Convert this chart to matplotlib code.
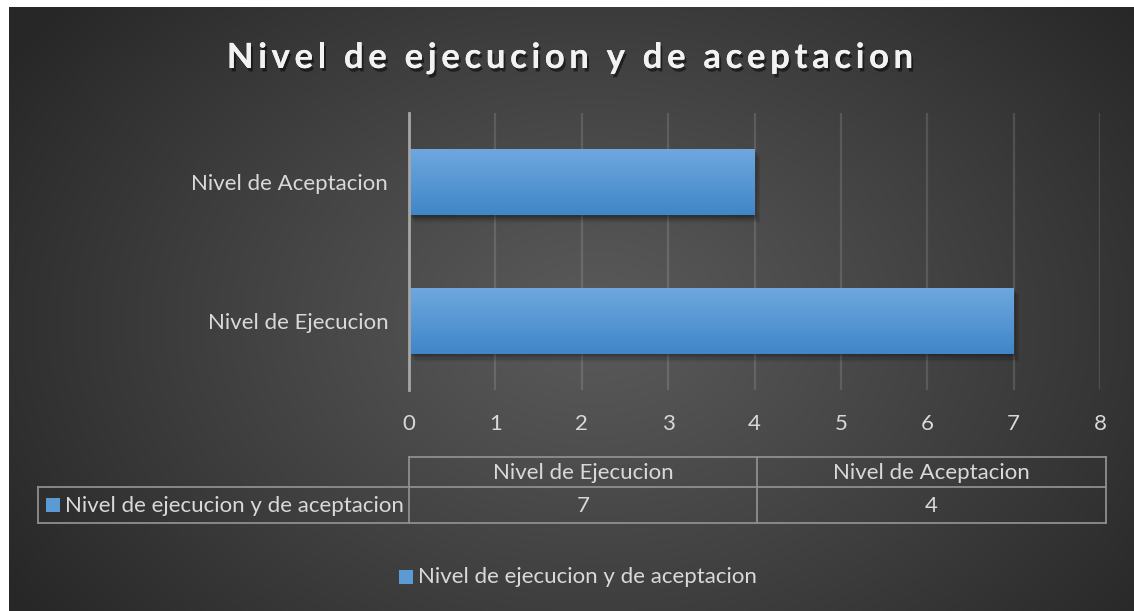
import numpy as np
import matplotlib
matplotlib.use("Agg")
import matplotlib.pyplot as plt
import matplotlib.patheffects as pe
from matplotlib.lines import Line2D
from matplotlib.patches import Rectangle
from matplotlib.font_manager import FontProperties

# Data
categories = ["Nivel de Ejecucion", "Nivel de Aceptacion"]
values = [7, 4]
series_name = "Nivel de ejecucion y de aceptacion"
title = "Nivel de ejecucion y de aceptacion"
x_ticks = [0, 1, 2, 3, 4, 5, 6, 7, 8]

W, H = 1134, 611
FONT = "Lato"
FS = 16
TXT = "#d9d9d9"
LINE = "#8f8f8f"
BLUE = "#5b9bd5"

fig = plt.figure(figsize=(W / 100, H / 100), dpi=100)
fig.patch.set_facecolor("white")
renderer = fig.canvas.get_renderer()


def fx(px):
    return px / W


def fy(py):
    return 1 - py / H


# Radial dark background
bg = fig.add_axes([fx(9), fy(611), fx(W - 9), (611 - 7) / H])
bg.set_axis_off()
yy, xx = np.mgrid[0:300, 0:560]
cx, cy = 560 * 0.52, 300 * 0.52
r = np.sqrt(((xx - cx) / 560) ** 2 + ((yy - cy) / 300 * 0.75) ** 2)
r = np.clip(r / 0.62, 0, 1)
inner, outer = 0x5a / 255, 0x27 / 255
grey = inner + (outer - inner) * r ** 1.1
img = np.dstack([grey, grey, grey])
bg.imshow(img, aspect="auto", extent=[0, 1, 0, 1], interpolation="bilinear")
bg.set_xlim(0, 1)
bg.set_ylim(0, 1)

# Title with letter spacing (kerning kept by measuring prefixes)
tprop = FontProperties(family=FONT, weight="bold", size=25)
spacing = 4.6


def text_w(s):
    if not s:
        return 0.0
    w, _, _ = renderer.get_text_width_height_descent(s, tprop, ismath=False)
    return w


total = text_w(title) + spacing * (len(title) - 1)
x_start = 570 - total / 2
title_fx = [pe.withSimplePatchShadow(offset=(1.5, -2.5), shadow_rgbFace="black", alpha=0.5),
            pe.Normal()]
for i, ch in enumerate(title):
    if ch == " ":
        continue
    xpos = x_start + text_w(title[:i]) + spacing * i
    fig.text(fx(xpos), fy(55), ch, ha="left", va="center_baseline", color="#f2f2f2",
             fontproperties=tprop, path_effects=title_fx)

# Plot area
ax = fig.add_axes([fx(409), fy(390), fx(1100 - 409), (390 - 113) / H])
ax.patch.set_alpha(0)
ypos = np.arange(len(categories))
shadow = []
for off, a in [((1, -1), 0.14), ((2, -2.5), 0.13), ((3, -4), 0.1), ((4, -5.5), 0.07)]:
    shadow.append(pe.SimplePatchShadow(offset=off, shadow_rgbFace="black", alpha=a))
bars = ax.barh(ypos, values, height=0.48, color=BLUE, zorder=3,
               path_effects=shadow + [pe.Normal()])
grad = np.linspace(0, 1, 64).reshape(-1, 1)
top = np.array([0x6f, 0xa8, 0xdf]) / 255
bot = np.array([0x40, 0x86, 0xc8]) / 255
gimg = top[None, None, :] * (1 - grad[:, :, None]) + bot[None, None, :] * grad[:, :, None]
for b in bars:
    x0, y0, w, h = b.get_x(), b.get_y(), b.get_width(), b.get_height()
    im = ax.imshow(gimg, extent=[x0, x0 + w, y0, y0 + h], origin="upper", aspect="auto", zorder=4)
    im.set_clip_path(b)

ax.set_xlim(0, 8)
ax.set_ylim(-0.5, 1.5)
ax.set_xticks(x_ticks)
ax.set_xticklabels([str(t) for t in x_ticks])
ax.set_yticks(ypos)
ax.set_yticklabels(categories)
ax.grid(axis="x", color="white", alpha=0.13, linewidth=1.6, zorder=1)
for s in ["top", "right", "bottom"]:
    ax.spines[s].set_visible(False)
ax.spines["left"].set_color("#a6a6a6")
ax.spines["left"].set_linewidth(2)
ax.spines["left"].set_zorder(5)
ax.tick_params(axis="both", length=0, colors=TXT, labelsize=FS)
ax.tick_params(axis="x", pad=17)
ax.tick_params(axis="y", pad=15)
for lab in ax.get_xticklabels() + ax.get_yticklabels():
    lab.set_family(FONT)

# Data table below the axis
col_edges = [409, 757, 1106]
legend_left = 38
r0, r1, r2 = 457, 487, 523


def hline(y, x0, x1):
    fig.add_artist(Line2D([fx(x0), fx(x1)], [fy(y), fy(y)], color=LINE, lw=1.3))


def vline(x, y0, y1):
    fig.add_artist(Line2D([fx(x), fx(x)], [fy(y0), fy(y1)], color=LINE, lw=1.3))


hline(r0, col_edges[0], col_edges[-1])
hline(r1, legend_left, col_edges[-1])
hline(r2, legend_left, col_edges[-1])
for x in col_edges:
    vline(x, r0, r2)
vline(legend_left, r1, r2)

for i, cat in enumerate(categories):
    xm = (col_edges[i] + col_edges[i + 1]) / 2
    fig.text(fx(xm), fy((r0 + r1) / 2 + 1), cat, ha="center", va="center",
             color=TXT, fontsize=FS, family=FONT)
    fig.text(fx(xm), fy((r1 + r2) / 2 + 1.5), str(values[i]), ha="center", va="center",
             color=TXT, fontsize=FS, family=FONT)

# Legend key inside the table
fig.add_artist(Rectangle((fx(46), fy(512)), fx(14), 14 / H, facecolor=BLUE, edgecolor="none"))
fig.text(fx(65), fy((r1 + r2) / 2 + 1), series_name, ha="left", va="center",
         color=TXT, fontsize=FS, family=FONT)

# Bottom legend
fig.add_artist(Rectangle((fx(399), fy(584)), fx(14), 14 / H, facecolor=BLUE, edgecolor="none"))
fig.text(fx(418), fy(577), series_name, ha="left", va="center",
         color=TXT, fontsize=FS, family=FONT)

fig.savefig("out.png", dpi=100, facecolor=fig.get_facecolor())
